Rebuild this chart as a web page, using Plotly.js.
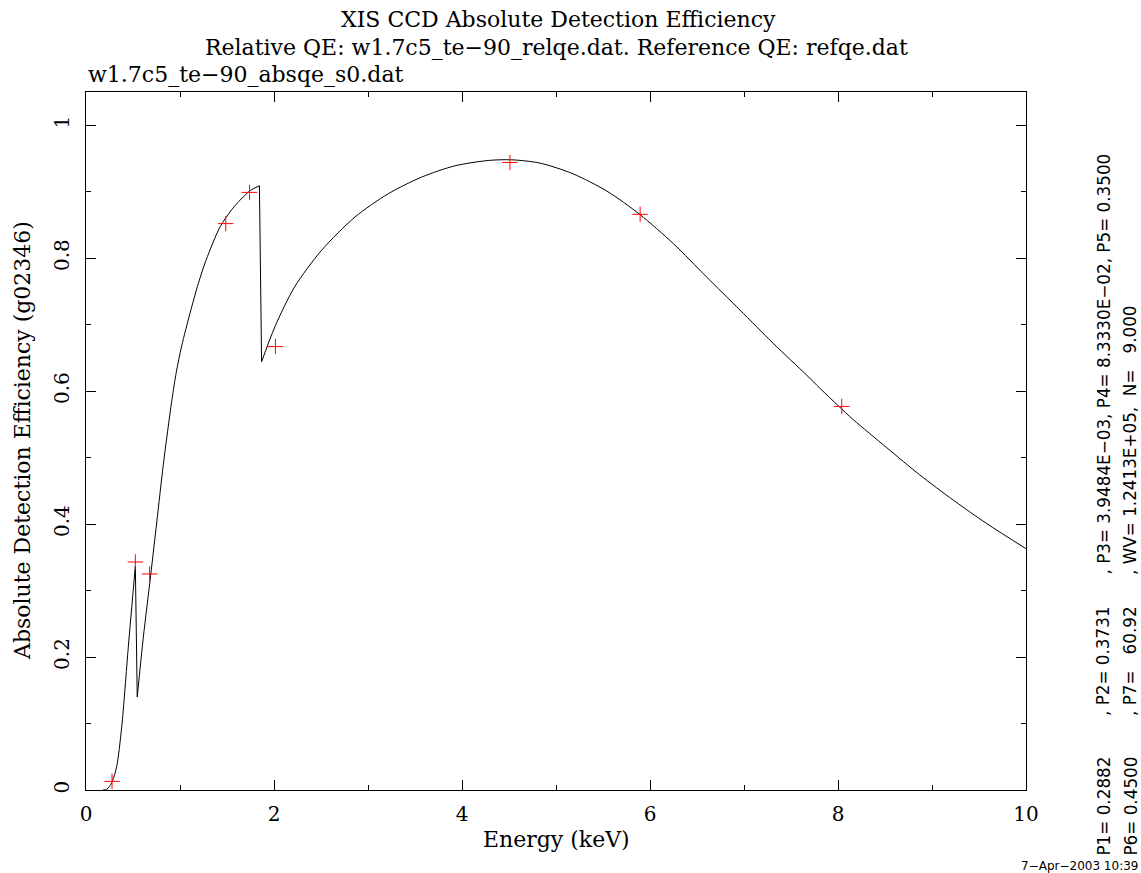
<!DOCTYPE html>
<html>
<head>
<meta charset="utf-8">
<script src="https://cdn.plot.ly/plotly-3.0.1.min.js"></script>
<style>html,body{margin:0;padding:0;background:#fff;}#chart{width:1141px;height:873px;}</style>
</head>
<body>
<div id="chart"></div>
<script>
// Model curve (Energy keV, absolute QE)
const curveEnergy = [0.18, 0.22, 0.248, 0.28, 0.326, 0.38, 0.45, 0.525, 0.545, 0.61, 0.688, 0.752, 0.823, 0.911, 0.96, 1.018, 1.106, 1.195, 1.277, 1.426, 1.55, 1.65, 1.75, 1.845, 1.868, 2.01, 2.22, 2.507, 2.862, 3.216, 3.571, 3.926, 4.28, 4.53, 4.83, 5.18, 5.54, 5.89, 6.248, 6.60, 6.957, 7.31, 7.667, 7.81, 8.003, 8.163, 8.518, 8.87, 9.227, 9.58, 10.0];
const curveQE = [0.0, 0.001, 0.005, 0.013, 0.035, 0.095, 0.215, 0.337, 0.140, 0.230, 0.323, 0.402, 0.490, 0.584, 0.628, 0.668, 0.717, 0.762, 0.797, 0.847, 0.873, 0.889, 0.902, 0.909, 0.644, 0.697, 0.757, 0.812, 0.862, 0.897, 0.922, 0.939, 0.947, 0.948, 0.943, 0.927, 0.901, 0.866, 0.822, 0.772, 0.722, 0.672, 0.624, 0.604, 0.578, 0.557, 0.515, 0.474, 0.436, 0.401, 0.363];
// Measured points
const pointEnergy = [0.277, 0.525, 0.677, 1.487, 1.740, 2.015, 4.51, 5.895, 8.04];
const pointQE = [0.013, 0.343, 0.325, 0.852, 0.899, 0.667, 0.944, 0.866, 0.577];

const titleLine1 = "XIS CCD Absolute Detection Efficiency";
const titleLine2 = "Relative QE: w1.7c5_te\u221290_relqe.dat. Reference QE: refqe.dat";
const subTitle = "w1.7c5_te\u221290_absqe_s0.dat";
const xTitle = "Energy (keV)";
const yTitle = "Absolute Detection Efficiency (g02346)";
const paramLine1 = ["P1= 0.2882", ", P2= 0.3731", ", P3= 3.9484E\u221203, P4= 8.3330E\u221202, P5= 0.3500"];
const paramLine2 = ["P6= 0.4500", ", P7=   60.92", ", WV= 1.2413E+05,  N=   9.000"];
const dateText = "7\u2212Apr\u22122003 10:39";

// layout geometry (pixels)
const L = 86, R = 1026, T = 92, B = 790, W = 1141, H = 873;
const px = x => (x - L) / (R - L);
const py = y => (B - y) / (B - T);
const serif = "DejaVu Serif";
const sans = "DejaVu Sans";

// split the model curve at absorption edges (where the value drops) so the
// smooth parts can be drawn as splines and the edges stay sharp
const traces = [];
let start = 0;
const pieces = [];
for (let i = 1; i < curveQE.length; i++) {
  if (curveQE[i] < curveQE[i - 1] - 0.1) {
    pieces.push([start, i - 1]);
    pieces.push([i - 1, i, 'edge']);
    start = i;
  }
}
pieces.push([start, curveQE.length - 1]);
pieces.forEach(p => {
  traces.push({
    x: curveEnergy.slice(p[0], p[1] + 1), y: curveQE.slice(p[0], p[1] + 1), mode: 'lines',
    line: {color: 'black', width: 1, shape: p[2] ? 'linear' : 'spline', smoothing: 0.8}, hoverinfo: 'skip'
  });
});
traces.push({x: pointEnergy, y: pointQE, mode: 'markers',
   marker: {symbol: 'cross-thin', size: 11, color: 'red', line: {color: 'red', width: 1}}});

const tfont = {family: serif, size: 22, color: 'black'};
const annotations = [
  {text: titleLine1, x: px(558), y: py(20), xref: 'paper', yref: 'paper', xanchor: 'center', yanchor: 'middle', showarrow: false, font: tfont},
  {text: titleLine2, x: px(556), y: py(47), xref: 'paper', yref: 'paper', xanchor: 'center', yanchor: 'middle', showarrow: false, font: tfont},
  {text: subTitle, x: px(86), y: py(75), xref: 'paper', yref: 'paper', xanchor: 'left', yanchor: 'middle', showarrow: false, font: tfont},
  {text: xTitle, x: px(556), y: py(839), xref: 'paper', yref: 'paper', xanchor: 'center', yanchor: 'middle', showarrow: false, font: tfont},
  {text: yTitle, x: px(22), y: py(441), xref: 'paper', yref: 'paper', xanchor: 'center', yanchor: 'middle', textangle: -90, showarrow: false, font: tfont},
  {text: dateText, x: px(1019), y: py(866), xref: 'paper', yref: 'paper', xanchor: 'left', yanchor: 'middle', showarrow: false, font: {family: sans, size: 12, color: 'black'}}
];
const segStarts = [858, 718, 577];
const pfont = {family: sans, size: 16.8, color: 'black'};
paramLine1.forEach((t, i) => annotations.push({text: t.replace(/ /g, '\u00a0'), x: px(1103), y: py(segStarts[i]), xref: 'paper', yref: 'paper', xanchor: 'center', yanchor: 'bottom', textangle: -90, showarrow: false, font: pfont}));
paramLine2.forEach((t, i) => annotations.push({text: t.replace(/ /g, '\u00a0'), x: px(1130), y: py(segStarts[i]), xref: 'paper', yref: 'paper', xanchor: 'center', yanchor: 'bottom', textangle: -90, showarrow: false, font: pfont}));

const axisCommon = {
  showgrid: false, zeroline: false, showline: true, linecolor: 'black', linewidth: 1,
  mirror: 'allticks', ticks: 'inside', ticklen: 10, tickcolor: 'black', tickwidth: 1,
  tickfont: {family: serif, size: 20, color: 'black'}
};

const layout = {
  width: W, height: H, showlegend: false,
  paper_bgcolor: 'white', plot_bgcolor: 'white',
  margin: {l: L, r: W - R, t: T, b: H - B, pad: 0},
  xaxis: Object.assign({}, axisCommon, {range: [0, 10], tickvals: [0, 2, 4, 6, 8, 10], ticktext: ['0', '2', '4', '6', '8', '10'], ticklabelstandoff: 6,
    minor: {tickvals: [1, 3, 5, 7, 9], ticklen: 5, ticks: 'inside', tickcolor: 'black', showgrid: false}}),
  yaxis: Object.assign({}, axisCommon, {range: [0, 1.05], tickvals: [0, 0.2, 0.4, 0.6, 0.8, 1], ticktext: ['0', '0.2', '0.4', '0.6', '0.8', '1'], tickangle: -90, ticklabelstandoff: 8,
    minor: {tickvals: [0.1, 0.3, 0.5, 0.7, 0.9], ticklen: 5, ticks: 'inside', tickcolor: 'black', showgrid: false}}),
  annotations: annotations
};

Plotly.newPlot('chart', traces, layout, {displayModeBar: false, staticPlot: true});
</script>
</body>
</html>
